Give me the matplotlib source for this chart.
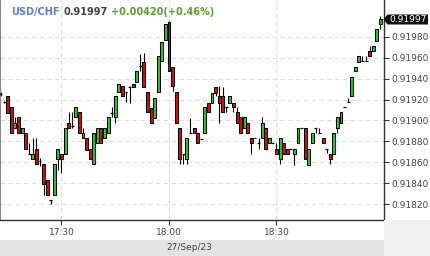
import matplotlib
matplotlib.use("Agg")
import matplotlib.pyplot as plt
from matplotlib.patches import Rectangle, Polygon

times = ["17:13", "17:14", "17:15", "17:16", "17:17", "17:18", "17:19", "17:20", "17:21", "17:22",
         "17:23", "17:24", "17:25", "17:26", "17:27", "17:28", "17:29", "17:30", "17:31", "17:32",
         "17:33", "17:34", "17:35", "17:36", "17:37", "17:38", "17:39", "17:40", "17:41", "17:42",
         "17:43", "17:44", "17:45", "17:46", "17:47", "17:48", "17:49", "17:50", "17:51", "17:52",
         "17:53", "17:54", "17:55", "17:56", "17:57", "17:58", "17:59", "18:00", "18:01", "18:02",
         "18:03", "18:04", "18:05", "18:06", "18:07", "18:08", "18:09", "18:10", "18:11", "18:12",
         "18:13", "18:14", "18:15", "18:16", "18:17", "18:18", "18:19", "18:20", "18:21", "18:22",
         "18:23", "18:24", "18:25", "18:26", "18:27", "18:28", "18:29", "18:30", "18:31", "18:32",
         "18:33", "18:34", "18:35", "18:36", "18:37", "18:38", "18:39", "18:40", "18:41", "18:42",
         "18:43", "18:44", "18:45", "18:46", "18:47", "18:48", "18:49", "18:50", "18:51", "18:52",
         "18:53", "18:54", "18:55", "18:56", "18:57", "18:58", "18:59"]

open_ = [0.91925, 0.91918, 0.91923, 0.91913, 0.91893, 0.91903, 0.91888, 0.91888, 0.91868, 0.91863,
         0.91873, 0.91861, 0.91858, 0.91843, 0.91824, 0.91829, 0.91863, 0.91868, 0.91868, 0.91898,
         0.91895, 0.91903, 0.91908, 0.91883, 0.91883, 0.91873, 0.91858, 0.91878, 0.91893, 0.91883,
         0.91888, 0.91907, 0.91903, 0.91927, 0.91933, 0.91927, 0.91932, 0.91935, 0.91937, 0.91952,
         0.91956, 0.91927, 0.91912, 0.91902, 0.91927, 0.91957, 0.91977, 0.91994, 0.91951, 0.91927,
         0.91893, 0.91868, 0.91863, 0.91888, 0.91893, 0.91888, 0.91882, 0.91888, 0.91917, 0.91917,
         0.91932, 0.91923, 0.91923, 0.91913, 0.91917, 0.91917, 0.91908, 0.91903, 0.91893, 0.91898,
         0.91883, 0.91883, 0.91878, 0.91883, 0.91893, 0.91878, 0.91878, 0.91873, 0.91863, 0.91878,
         0.91873, 0.91873, 0.91868, 0.91878, 0.91893, 0.91893, 0.91857, 0.91878, 0.91893, 0.91888,
         0.91883, 0.91873, 0.91868, 0.91868, 0.91893, 0.91898, 0.91913, 0.91918, 0.91923, 0.91947,
         0.91956, 0.91957, 0.91957, 0.91967, 0.91967, 0.91976, 0.91992]

high = [0.91927, 0.91919, 0.91923, 0.91913, 0.91903, 0.91903, 0.91893, 0.91888, 0.91878, 0.91883,
        0.91883, 0.91864, 0.91858, 0.91843, 0.91824, 0.91858, 0.91873, 0.91868, 0.91893, 0.91908,
        0.91908, 0.91913, 0.91908, 0.91893, 0.91883, 0.91873, 0.91888, 0.91893, 0.91893, 0.91893,
        0.91903, 0.91913, 0.91923, 0.91935, 0.91933, 0.91927, 0.91933, 0.91935, 0.91947, 0.91964,
        0.91965, 0.91927, 0.91912, 0.91922, 0.91962, 0.91975, 0.91992, 0.91995, 0.91951, 0.91927,
        0.91893, 0.91868, 0.91883, 0.91902, 0.91893, 0.91888, 0.91882, 0.91913, 0.91917, 0.91926,
        0.91932, 0.91933, 0.91932, 0.91913, 0.91923, 0.91917, 0.91913, 0.91903, 0.91903, 0.91898,
        0.91883, 0.91883, 0.91883, 0.91903, 0.91893, 0.91883, 0.91878, 0.91878, 0.91883, 0.91878,
        0.91873, 0.91873, 0.91873, 0.91893, 0.91893, 0.91893, 0.91873, 0.91888, 0.91893, 0.91893,
        0.91883, 0.91873, 0.91868, 0.91888, 0.91903, 0.91908, 0.91913, 0.91922, 0.91942, 0.91951,
        0.91962, 0.91962, 0.91962, 0.91971, 0.91971, 0.91988, 0.92000]

low = [0.91923, 0.91917, 0.91907, 0.91888, 0.91893, 0.91888, 0.91888, 0.91873, 0.91868, 0.91863,
       0.91858, 0.91856, 0.91829, 0.91829, 0.91820, 0.91829, 0.91853, 0.91850, 0.91868, 0.91893,
       0.91893, 0.91903, 0.91888, 0.91883, 0.91872, 0.91863, 0.91858, 0.91878, 0.91878, 0.91883,
       0.91888, 0.91903, 0.91898, 0.91927, 0.91923, 0.91918, 0.91917, 0.91932, 0.91937, 0.91947,
       0.91932, 0.91908, 0.91898, 0.91902, 0.91927, 0.91957, 0.91977, 0.91947, 0.91928, 0.91898,
       0.91858, 0.91858, 0.91858, 0.91888, 0.91888, 0.91878, 0.91882, 0.91888, 0.91908, 0.91917,
       0.91923, 0.91898, 0.91908, 0.91908, 0.91917, 0.91908, 0.91898, 0.91888, 0.91893, 0.91888,
       0.91868, 0.91883, 0.91873, 0.91883, 0.91873, 0.91878, 0.91878, 0.91868, 0.91858, 0.91868,
       0.91868, 0.91873, 0.91857, 0.91878, 0.91893, 0.91863, 0.91857, 0.91878, 0.91888, 0.91888,
       0.91878, 0.91869, 0.91858, 0.91868, 0.91888, 0.91898, 0.91913, 0.91918, 0.91923, 0.91947,
       0.91956, 0.91957, 0.91957, 0.91962, 0.91967, 0.91976, 0.91988]

close = [0.91925, 0.91918, 0.91907, 0.91888, 0.91898, 0.91888, 0.91893, 0.91873, 0.91868, 0.91868,
         0.91858, 0.91861, 0.91839, 0.91829, 0.91824, 0.91858, 0.91873, 0.91863, 0.91893, 0.91893,
         0.91895, 0.91913, 0.91888, 0.91888, 0.91872, 0.91863, 0.91888, 0.91893, 0.91878, 0.91893,
         0.91903, 0.91907, 0.91923, 0.91935, 0.91923, 0.91927, 0.91932, 0.91932, 0.91947, 0.91952,
         0.91932, 0.91908, 0.91898, 0.91922, 0.91962, 0.91975, 0.91992, 0.91947, 0.91933, 0.91898,
         0.91863, 0.91868, 0.91883, 0.91888, 0.91888, 0.91878, 0.91882, 0.91913, 0.91908, 0.91926,
         0.91926, 0.91917, 0.91908, 0.91913, 0.91923, 0.91913, 0.91898, 0.91888, 0.91903, 0.91888,
         0.91878, 0.91883, 0.91878, 0.91898, 0.91873, 0.91883, 0.91878, 0.91868, 0.91883, 0.91868,
         0.91868, 0.91873, 0.91873, 0.91893, 0.91893, 0.91863, 0.91873, 0.91888, 0.91893, 0.91888,
         0.91878, 0.91873, 0.91863, 0.91888, 0.91903, 0.91908, 0.91913, 0.91918, 0.91942, 0.91951,
         0.91962, 0.91957, 0.91957, 0.91962, 0.91971, 0.91988, 0.91997]

y_ticks = [0.91820, 0.91840, 0.91860, 0.91880, 0.91900, 0.91920, 0.91940, 0.91960, 0.91980]
x_tick_labels = ["17:30", "18:00", "18:30"]
symbol = "USD/CHF"
last_price = "0.91997"
change_text = "+0.00420(+0.46%)"
date_label = "27/Sep/23"

W, H = 430, 256
fig = plt.figure(figsize=(W / 100, H / 100), dpi=100)
fig.patch.set_facecolor("white")

# bottom bands
fig.patches.append(Rectangle((0, 0), 384 / W, 16 / H, transform=fig.transFigure,
                             facecolor="#e4e4e4", edgecolor="none", zorder=0))
fig.patches.append(Rectangle((384 / W, 0), 46 / W, 36 / H, transform=fig.transFigure,
                             facecolor="#f0f0f0", edgecolor="none", zorder=0))

ax = fig.add_axes([0, 36 / H, 384 / W, 220 / H])
ax.set_facecolor("white")


def to_min(t):
    h, m = t.split(":")
    return int(h) * 60 + int(m) - 17 * 60


xs = [to_min(t) for t in times]
ax.set_xlim(12.84, 120.0)
ax.set_ylim(0.918047, 0.920154)

ax.set_axisbelow(True)
ax.grid(True, color="#dcdcdc", linestyle=(0, (4, 3)), linewidth=0.8)

bw = 0.8
for x, o, h, l, c in zip(xs, open_, high, low, close):
    ax.vlines(x, l, h, color="black", linewidth=0.8, zorder=2)
    if abs(c - o) < 1e-9:
        ax.hlines(o, x - bw / 2, x + bw / 2, color="black", linewidth=0.9, zorder=3)
    else:
        col = "#22cc22" if c > o else "#cc1111"
        ax.bar(x, abs(c - o), bottom=min(o, c), width=bw, color=col,
               edgecolor="black", linewidth=0.75, zorder=3)

ax.set_xticks([to_min(t) for t in x_tick_labels])
ax.set_xticklabels(x_tick_labels)
ax.yaxis.tick_right()
ax.set_yticks(y_ticks)
ax.set_yticklabels([f"{v:.5f}" for v in y_ticks])
ax.tick_params(axis="both", direction="out", length=3.5, width=0.8, color="#333333",
               labelsize=6.5, labelcolor="#444444", pad=1.5)
ax.tick_params(axis="x", pad=2)

ax.spines["top"].set_visible(False)
ax.spines["left"].set_color("#888888")
ax.spines["left"].set_linewidth(0.8)
for s in ["right", "bottom"]:
    ax.spines[s].set_color("#333333")
    ax.spines[s].set_linewidth(1.0)

# title pieces
ty = 1 - 12 / H
fig.text(11 / W, ty, symbol, color="#5b7fd4", fontsize=7, fontweight="bold", va="center", ha="left")
fig.text(63 / W, ty, last_price, color="#444444", fontsize=7, fontweight="bold", va="center", ha="left")
fig.text(111 / W, ty, change_text, color="#5aa02c", fontsize=7, fontweight="bold", va="center", ha="left")

# last price marker
py = 1 - 19.5 / H
box = Polygon([(383.5 / W, py), (387.5 / W, 1 - 14.5 / H), (428 / W, 1 - 14.5 / H),
               (428 / W, 1 - 24.5 / H), (387.5 / W, 1 - 24.5 / H)], closed=True,
              transform=fig.transFigure, facecolor="#111111", edgecolor="none", zorder=5)
fig.patches.append(box)
fig.text(408 / W, py, last_price, color="white", fontsize=6.5, va="center", ha="center", zorder=6)

fig.text(189 / W, 8 / H, date_label, color="#444444", fontsize=6.5, va="center", ha="center")

fig.savefig("out.png", dpi=100)
